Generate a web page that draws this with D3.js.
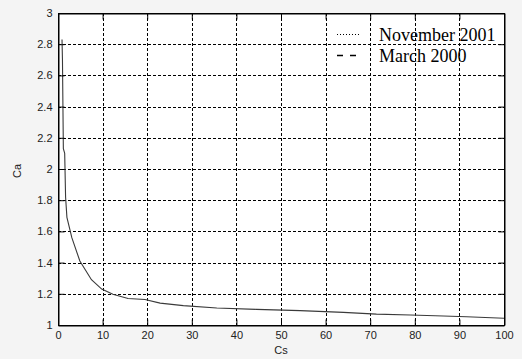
<!DOCTYPE html>
<html><head><meta charset="utf-8">
<script src="https://cdn.jsdelivr.net/npm/d3@7/dist/d3.min.js"></script>
<style>
html,body{margin:0;padding:0;background:#f4f4f4;}
svg{display:block;}
</style></head>
<body>
<svg id="chart" width="522" height="359"></svg>
<script>
// Data
const cs = [0.9, 1.0, 1.2, 1.5, 1.7, 2.0, 3.1, 4.9, 7.5, 9.8, 12.3, 15.7, 19.5, 22.9, 28.1, 35.6, 44.5, 54.3, 64, 71.4, 79, 86.4, 91.6, 100];
const ca = [2.83, 2.70, 2.13, 2.10, 1.82, 1.69, 1.56, 1.41, 1.29, 1.23, 1.197, 1.17, 1.163, 1.14, 1.124, 1.109, 1.10, 1.092, 1.081, 1.07, 1.064, 1.058, 1.053, 1.043];
const xTicks = [0, 10, 20, 30, 40, 50, 60, 70, 80, 90, 100];
const yTicks = [1, 1.2, 1.4, 1.6, 1.8, 2, 2.2, 2.4, 2.6, 2.8, 3];
const legendLabels = ["November 2001", "March 2000"];
const legendDashes = ["1,2", "6,7"];
const xLabel = "Cs";
const yLabel = "Ca";

const svg = d3.select("#chart");
const L = 58, R = 504, T = 13, B = 325;
const x = d3.scaleLinear().domain([0, 100]).range([L, R]);
const y = d3.scaleLinear().domain([1, 3]).range([B, T]);

svg.append("rect").attr("x", L).attr("y", T).attr("width", R - L).attr("height", B - T).attr("fill", "#fff");

// grid
const grid = svg.append("g").attr("stroke", "#000").attr("stroke-width", 1).attr("stroke-dasharray", "3,2");
xTicks.slice(1, -1).forEach(v => grid.append("line").attr("x1", Math.round(x(v)) + 0.5).attr("x2", Math.round(x(v)) + 0.5).attr("y1", T).attr("y2", B));
yTicks.slice(1, -1).forEach(v => grid.append("line").attr("y1", Math.round(y(v)) + 0.5).attr("y2", Math.round(y(v)) + 0.5).attr("x1", L).attr("x2", R));

// curve
const line = d3.line().x((d, i) => x(cs[i])).y((d, i) => y(ca[i]));
svg.append("path").datum(ca).attr("d", line).attr("fill", "none").attr("stroke", "#3a3a3a").attr("stroke-width", 1.1);

// axes
const fmt = d => String(+d.toFixed(1));
const xAxis = svg.append("g").attr("transform", `translate(0,${B + 0.5})`)
  .call(d3.axisBottom(x).tickValues(xTicks).tickFormat(fmt).tickSizeInner(-6).tickSizeOuter(0).tickPadding(6));
const yAxis = svg.append("g").attr("transform", `translate(${L + 0.5},0)`)
  .call(d3.axisLeft(y).tickValues(yTicks).tickFormat(fmt).tickSizeInner(-6).tickSizeOuter(0).tickPadding(6));
const xAxisTop = svg.append("g").attr("transform", `translate(0,${T + 0.5})`)
  .call(d3.axisTop(x).tickValues(xTicks).tickFormat("").tickSizeInner(-6).tickSizeOuter(0));
const yAxisR = svg.append("g").attr("transform", `translate(${R + 0.5},0)`)
  .call(d3.axisRight(y).tickValues(yTicks).tickFormat("").tickSizeInner(-6).tickSizeOuter(0));
[xAxis, yAxis, xAxisTop, yAxisR].forEach(g => {
  g.select(".domain").attr("stroke", "#000");
  g.selectAll(".tick line").attr("stroke", "#000");
  g.selectAll("text").attr("font-family", "Liberation Sans, Arial, sans-serif").attr("font-size", 11).attr("fill", "#222");
});

svg.append("rect").attr("x", L + 0.5).attr("y", T + 0.5).attr("width", R - L).attr("height", B - T)
  .attr("fill", "none").attr("stroke", "#000");

// axis labels
svg.append("text").attr("x", (L + R) / 2).attr("y", 354).attr("text-anchor", "middle")
  .attr("font-family", "Liberation Sans, Arial, sans-serif").attr("font-size", 11).attr("fill", "#222").text(xLabel);
svg.append("text").attr("transform", `translate(21,171) rotate(-90)`).attr("text-anchor", "middle")
  .attr("font-family", "Liberation Sans, Arial, sans-serif").attr("font-size", 11).attr("fill", "#222").text(yLabel);

// legend
const lg = svg.append("g");
legendLabels.forEach((lab, i) => {
  const yy = 34.5 + i * 21;
  lg.append("line").attr("x1", 337).attr("x2", 359).attr("y1", yy).attr("y2", yy)
    .attr("stroke", "#000").attr("stroke-width", i === 0 ? 1 : 1.5).attr("stroke-dasharray", legendDashes[i]);
  lg.append("text").attr("x", 379).attr("y", yy + 6).attr("font-family", "Liberation Serif, Times New Roman, serif")
    .attr("font-size", 18).attr("fill", "#000").text(lab);
});
</script>
</body></html>
